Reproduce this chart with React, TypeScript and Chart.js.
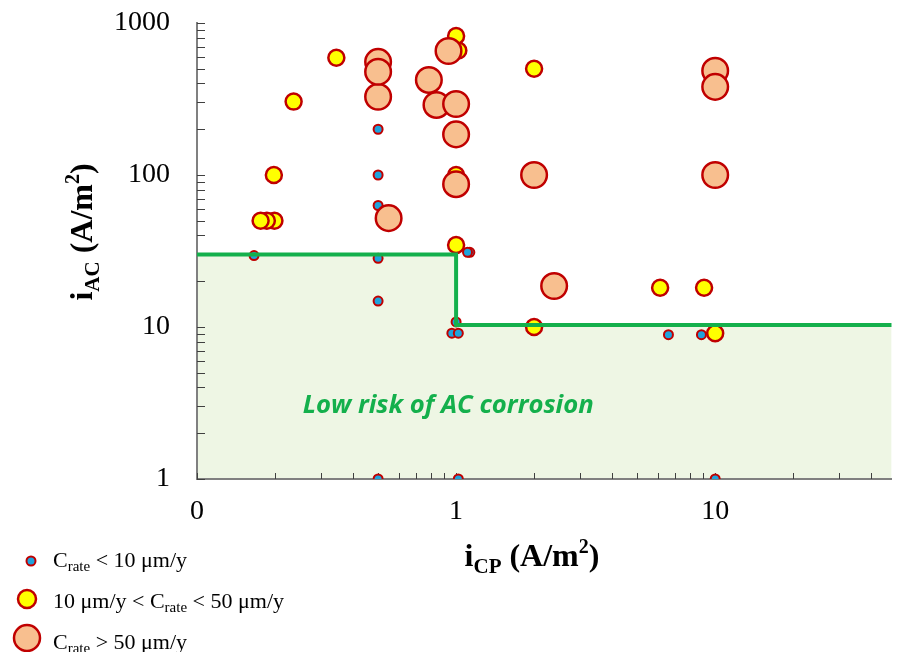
import React, { useEffect, useRef } from "react";
import { Chart, registerables } from "chart.js";
Chart.register(...registerables);

// ---- axis ticks ----
const xTickValues = [0.1, 1, 10];
const xTickLabels = ["0", "1", "10"];
const yTickValues = [1, 10, 100, 1000];
const yTickLabels = ["1", "10", "100", "1000"];
const X_MIN = 0.1;
const X_MAX = 48;
const Y_MIN = 1;
const Y_MAX = 1000;

// ---- C_rate < 10 um/y ----
const lowX = [0.5, 0.5, 0.5, 0.166, 0.5, 0.5, 1.0, 0.963, 1.02, 0.5, 1.02, 1.13, 1.107, 6.6, 8.85, 10];
const lowY = [200, 100, 63, 29.5, 28.3, 14.8, 10.8, 9.1, 9.1, 1, 1, 31, 31, 8.9, 8.9, 1];

// ---- 10 < C_rate < 50 um/y ----
const midX = [1.02, 1.0, 0.345, 0.236, 0.198, 0.199, 0.186, 0.176, 1.0, 1.0, 2.0, 2.0, 6.13, 9.06, 10];
const midY = [660, 820, 590, 304, 100, 50, 50, 50, 34.6, 100, 500, 10, 18.1, 18.1, 9.1];

// ---- C_rate > 50 um/y ----
const highX = [0.5, 0.5, 0.5, 0.785, 0.84, 1.0, 1.0, 0.549, 1.0, 2.0, 10, 10, 10, 2.39, 0.935];
const highY = [555, 327, 478, 422, 289, 293, 185, 52, 87, 100, 485, 380, 100, 18.6, 654];

// ---- low-risk boundary ----
const boundaryX = [0.1, 1, 1, 48];
const boundaryY = [30, 30, 10.3, 10.3];

const SERIF = "'Times New Roman', 'Liberation Serif', serif";
const RED = "#c00000";
const BLUE = "#1fa3dc";
const YELLOW = "#ffff00";
const PEACH = "#f8bf8f";
const GREEN = "#14b04c";
const FILL = "#eef6e4";
const AXIS = "#808080";
const TICK = "#404040";

type Part = { text: string; font: string; dy?: number };

function drawRich(ctx: CanvasRenderingContext2D, parts: Part[], x: number, y: number, align: "left" | "center") {
  let total = 0;
  const widths = parts.map((p) => {
    ctx.font = p.font;
    const w = ctx.measureText(p.text).width;
    total += w;
    return w;
  });
  let cx = align === "center" ? x - total / 2 : x;
  ctx.textAlign = "left";
  ctx.textBaseline = "alphabetic";
  parts.forEach((p, i) => {
    ctx.font = p.font;
    ctx.fillText(p.text, cx, y + (p.dy || 0));
    cx += widths[i];
  });
}

function titleParts(sub: string): Part[] {
  return [
    { text: "i", font: `bold 32px ${SERIF}` },
    { text: sub, font: `bold 21px ${SERIF}`, dy: 7 },
    { text: " (A/m", font: `bold 32px ${SERIF}` },
    { text: "2", font: `bold 20px ${SERIF}`, dy: -13 },
    { text: ")", font: `bold 32px ${SERIF}` },
  ];
}

const LF = `22px ${SERIF}`;
const LS = `15px ${SERIF}`;

export default function App() {
  const ref = useRef<HTMLCanvasElement>(null);
  useEffect(() => {
    const canvas = ref.current!;
    const toPts = (xs: number[], ys: number[]) => xs.map((x, i) => ({ x, y: ys[i] }));

    const decor = {
      id: "decor",
      beforeDatasetsDraw(chart: any) {
        const { ctx, chartArea: a, scales } = chart;
        const x = scales.x;
        const y = scales.y;
        ctx.save();
        ctx.strokeStyle = TICK;
        ctx.lineWidth = 1;
        ctx.beginPath();
        for (let d = X_MIN; d < X_MAX; d *= 10) {
          for (let m = 1; m <= 9; m++) {
            const v = d * m;
            if (v > X_MAX * 1.0001) break;
            const px = Math.round(x.getPixelForValue(v)) + 0.5;
            ctx.moveTo(px, a.bottom);
            ctx.lineTo(px, a.bottom - 6);
          }
        }
        for (let d = Y_MIN; d < Y_MAX; d *= 10) {
          for (let m = 1; m <= 9; m++) {
            const py = Math.round(y.getPixelForValue(d * m)) + 0.5;
            ctx.moveTo(a.left, py);
            ctx.lineTo(a.left + 8, py);
          }
        }
        const pTop = Math.round(y.getPixelForValue(Y_MAX)) + 0.5;
        ctx.moveTo(a.left, pTop);
        ctx.lineTo(a.left + 8, pTop);
        ctx.stroke();
        ctx.restore();
      },
      afterDraw(chart: any) {
        const { ctx, scales } = chart;
        const x = scales.x;
        const y = scales.y;
        ctx.save();
        // region label
        const label = "Low risk of AC corrosion";
        ctx.font = `italic bold 100px 'Open Sans', sans-serif`;
        const w100 = ctx.measureText(label).width;
        const size = (100 * 291) / w100;
        ctx.font = `italic bold ${size}px 'Open Sans', sans-serif`;
        ctx.fillStyle = GREEN;
        ctx.textAlign = "left";
        ctx.textBaseline = "alphabetic";
        ctx.fillText(label, x.getPixelForValue(0.256), y.getPixelForValue(2.72));

        // axis titles
        ctx.fillStyle = "#000";
        drawRich(ctx, titleParts("CP"), 532, 566, "center");
        ctx.save();
        ctx.translate(92, 232);
        ctx.rotate(-Math.PI / 2);
        drawRich(ctx, titleParts("AC"), 0, 0, "center");
        ctx.restore();

        // legend
        const marker = (cx: number, cy: number, r: number, fill: string, lw: number) => {
          ctx.beginPath();
          ctx.arc(cx, cy, r, 0, Math.PI * 2);
          ctx.fillStyle = fill;
          ctx.fill();
          ctx.lineWidth = lw;
          ctx.strokeStyle = RED;
          ctx.stroke();
        };
        marker(31, 561, 4.5, BLUE, 2);
        marker(27, 599, 9, YELLOW, 2.5);
        marker(27, 638, 13, PEACH, 2.5);
        ctx.fillStyle = "#000";
        drawRich(ctx, [
          { text: "C", font: LF },
          { text: "rate", font: LS, dy: 4 },
          { text: " < 10 \u03bcm/y", font: LF },
        ], 53, 567, "left");
        drawRich(ctx, [
          { text: "10 \u03bcm/y < C", font: LF },
          { text: "rate", font: LS, dy: 4 },
          { text: " < 50 \u03bcm/y", font: LF },
        ], 53, 608, "left");
        drawRich(ctx, [
          { text: "C", font: LF },
          { text: "rate", font: LS, dy: 4 },
          { text: " > 50 \u03bcm/y", font: LF },
        ], 53, 649, "left");
        ctx.restore();
      },
    };

    const chart = new Chart(canvas, {
      type: "scatter",
      data: {
        datasets: [
          {
            type: "line",
            label: "low risk region",
            data: toPts(boundaryX, boundaryY),
            fill: "start",
            showLine: true,
            backgroundColor: FILL,
            borderWidth: 0,
            pointRadius: 0,
            order: 10,
          } as any,
          {
            label: "Crate < 10",
            data: toPts(lowX, lowY),
            backgroundColor: BLUE,
            borderColor: RED,
            borderWidth: 2,
            pointRadius: 4.5,
            order: 3,
          },
          {
            label: "10 < Crate < 50",
            data: toPts(midX, midY),
            backgroundColor: YELLOW,
            borderColor: RED,
            borderWidth: 2.5,
            pointRadius: 8,
            order: 2,
          },
          {
            label: "Crate > 50",
            data: toPts(highX, highY),
            backgroundColor: PEACH,
            borderColor: RED,
            borderWidth: 2.5,
            pointRadius: 12.8,
            order: 1,
          },
          {
            type: "line",
            label: "boundary",
            data: toPts(boundaryX, boundaryY),
            fill: false,
            showLine: true,
            borderColor: GREEN,
            borderWidth: 4,
            pointRadius: 0,
            order: 0,
          } as any,
        ],
      },
      options: {
        animation: false,
        responsive: false,
        events: [],
        layout: { padding: { top: 23, right: 1, left: 0, bottom: 0 } },
        plugins: {
          legend: { display: false },
          tooltip: { enabled: false },
          filler: { drawTime: "beforeDraw" },
        } as any,
        scales: {
          x: {
            type: "logarithmic",
            min: X_MIN,
            max: X_MAX,
            grid: { display: false, drawTicks: false },
            border: { display: true, color: AXIS, width: 2 },
            afterFit: (s: any) => {
              s.height = 181;
              s.paddingLeft = 0;
              s.paddingRight = 0;
              s.paddingTop = 0;
              s.paddingBottom = 0;
            },
            afterBuildTicks: (s: any) => { s.ticks = xTickValues.map((v) => ({ value: v })); },
            ticks: {
              autoSkip: false,
              maxRotation: 0,
              padding: 19,
              color: "#000",
              font: { family: SERIF, size: 28, lineHeight: 1 },
              callback: (v: any) => {
                const i = xTickValues.findIndex((t) => Math.abs(t - Number(v)) < 1e-9);
                return i >= 0 ? xTickLabels[i] : "";
              },
            },
          },
          y: {
            type: "logarithmic",
            min: Y_MIN,
            max: Y_MAX,
            grid: { display: false, drawTicks: false },
            border: { display: true, color: AXIS, width: 2 },
            afterFit: (s: any) => {
              s.width = 197;
              s.paddingLeft = 0;
              s.paddingRight = 0;
              s.paddingTop = 0;
              s.paddingBottom = 0;
            },
            afterBuildTicks: (s: any) => { s.ticks = yTickValues.map((v) => ({ value: v })); },
            ticks: {
              autoSkip: false,
              padding: 27,
              color: "#000",
              font: { family: SERIF, size: 28, lineHeight: 1 },
              callback: (v: any) => {
                const i = yTickValues.findIndex((t) => Math.abs(t - Number(v)) < 1e-9);
                return i >= 0 ? yTickLabels[i] : "";
              },
            },
          },
        },
      },
      plugins: [decor],
    });
    return () => chart.destroy();
  }, []);

  return (
    <div style={{ margin: -8, height: 660, overflow: "hidden" }}>
      <canvas ref={ref} width={907} height={660} style={{ display: "block" }} />
    </div>
  );
}
